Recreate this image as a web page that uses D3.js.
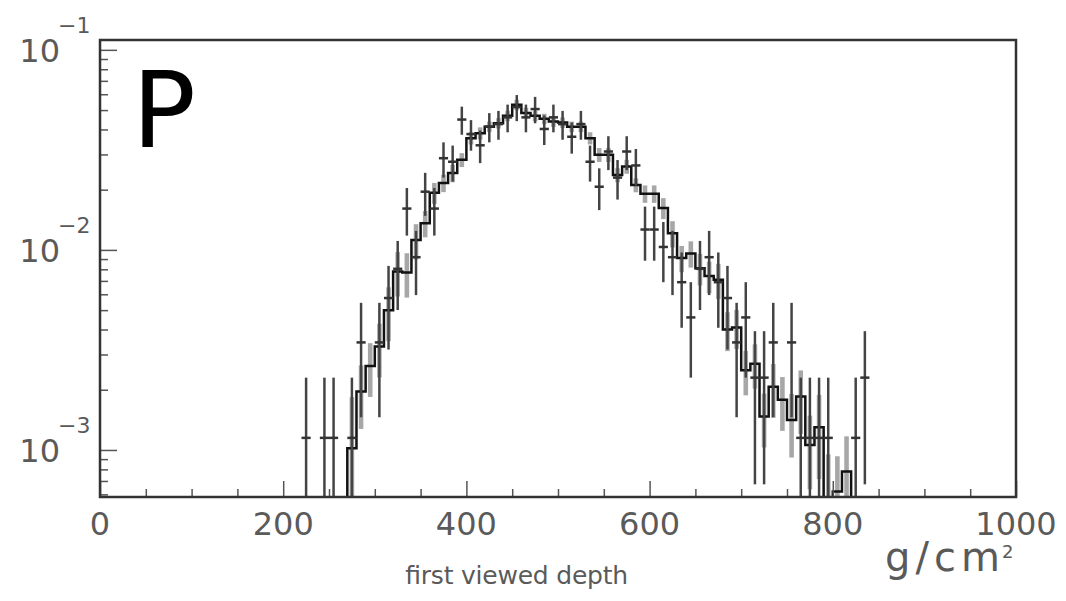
<!DOCTYPE html>
<html>
<head>
<meta charset="utf-8">
<script src="https://cdn.jsdelivr.net/npm/d3@7"></script>
<style>
  body { margin: 0; background: #fff; }
  text { font-family: "DejaVu Sans", sans-serif; }
</style>
</head>
<body>
<div id="chart"></div>
<script>
// Data
// measured points: bin centres (g/cm2) and event counts per 10 g/cm2 bin
const dataCenters = [225, 245, 255, 275, 285, 305, 315, 325, 335, 345, 355, 365,
    375, 385, 395, 405, 415, 425, 435, 445, 455, 465, 475, 485, 495, 505, 515, 525,
    535, 545, 555, 565, 575, 585, 595, 605, 615, 625, 635, 645, 655, 665, 675, 685,
    695, 705, 715, 725, 735, 755, 765, 775, 785, 795, 825, 835];
const dataCounts = [1, 1, 1, 1, 3, 3, 5, 7, 14, 8, 17, 14,
    25, 24, 39, 33, 29, 36, 37, 40, 45, 40, 44, 35, 40, 37, 32, 37,
    24, 18, 27, 20, 27, 23, 11, 11, 9, 8, 6, 4, 7, 8, 6, 5,
    3, 4, 2, 2, 3, 3, 1, 1, 1, 1, 1, 2];
const dataTotal = 870;

// simulated histogram: lower bin edges, contents, relative errors
const mcEdges = [270, 280, 290, 300, 310, 320, 330, 340, 350, 360, 370, 380, 390, 400,
    410, 420, 430, 440, 450, 460, 470, 480, 490, 500, 510, 520, 530, 540, 550, 560,
    570, 580, 590, 600, 610, 620, 630, 640, 650, 660, 670, 680, 690, 700, 710, 720,
    730, 740, 750, 760, 770, 780, 790, 800, 810];
const mcValues = [0.00102, 0.00196, 0.00263, 0.00329, 0.0050, 0.0078, 0.0077, 0.0112,
    0.0136, 0.0193, 0.0216, 0.0242, 0.0282, 0.0362, 0.0383, 0.0413, 0.0430, 0.0468,
    0.0531, 0.0484, 0.0468, 0.0452, 0.0438, 0.0433, 0.0413, 0.0413, 0.0362, 0.0299,
    0.0299, 0.0237, 0.0261, 0.0211, 0.0191, 0.0191, 0.0162, 0.0121, 0.0091, 0.0096,
    0.0081, 0.0074, 0.0071, 0.0040, 0.0041, 0.0025, 0.0027, 0.00147, 0.00207, 0.00178,
    0.00141, 0.00185, 0.00106, 0.0013, 0.0005, 0.00062, 0.00078];
const mcRelErr = [0.8, 0.35, 0.3, 0.3, 0.3, 0.25, 0.25, 0.2, 0.15, 0.12, 0.1, 0.1, 0.08, 0.07,
    0.07, 0.06, 0.06, 0.06, 0.06, 0.06, 0.06, 0.06, 0.06, 0.06, 0.06, 0.06, 0.07, 0.08,
    0.08, 0.08, 0.08, 0.08, 0.1, 0.1, 0.12, 0.15, 0.15, 0.15, 0.18, 0.18, 0.2, 0.22, 0.22,
    0.25, 0.25, 0.3, 0.3, 0.3, 0.35, 0.35, 0.4, 0.45, 0.9, 0.5, 0.5];
const binWidth = 10;

// axis labels
const xTickLabels = [0, 200, 400, 600, 800, 1000];
const yTickExponents = [-1, -2, -3];

// Dimensions and margins
const margin = { top: 40, right: 50, bottom: 104, left: 100 },
    width = 1066 - margin.left - margin.right,
    height = 601 - margin.top - margin.bottom;

const svg = d3.select("#chart")
    .append("svg")
    .attr("width", 1066)
    .attr("height", 601)
    .append("g")
    .attr("transform", `translate(${margin.left},${margin.top})`);

// Scales
const yMin = 5.82e-4, yMax = 0.112;
const x = d3.scaleLinear().domain([0, 1000]).range([0, width]);
const y = d3.scaleLog().domain([yMin, yMax]).range([height, 0]).clamp(true);
const yPos = v => v > yMin ? y(v) : height + 3;

svg.append("clipPath").attr("id", "clip")
    .append("rect").attr("width", width).attr("height", height);

const plot = svg.append("g").attr("clip-path", "url(#clip)");

// MC error band
plot.selectAll(".band")
    .data(mcEdges)
    .enter()
    .append("rect")
    .attr("class", "band")
    .attr("x", d => x(d + 2.5))
    .attr("width", x(5) - x(0))
    .attr("y", (d, i) => yPos(mcValues[i] * (1 + mcRelErr[i])))
    .attr("height", (d, i) => yPos(mcValues[i] * (1 - mcRelErr[i])) - yPos(mcValues[i] * (1 + mcRelErr[i])))
    .attr("fill", "#8a8a8a")
    .attr("opacity", 0.75);

// MC histogram outline
const histPts = [{ x: mcEdges[0], v: 0 }]
    .concat(mcEdges.map((d, i) => ({ x: d, v: mcValues[i] })))
    .concat([{ x: mcEdges[mcEdges.length - 1] + binWidth, v: 0 }]);

plot.append("path")
    .datum(histPts)
    .attr("fill", "none")
    .attr("stroke", "#111")
    .attr("stroke-width", 2.5)
    .attr("d", d3.line()
        .x(d => x(d.x))
        .y(d => yPos(d.v))
        .curve(d3.curveStepAfter));

// Data points with error bars
const points = dataCenters.map((c, i) => {
    const n = dataCounts[i];
    return { c: c, v: n / dataTotal, e: Math.sqrt(n) / dataTotal };
});

plot.selectAll(".ebar")
    .data(points)
    .enter()
    .append("line")
    .attr("class", "ebar")
    .attr("x1", d => x(d.c))
    .attr("x2", d => x(d.c))
    .attr("y1", d => yPos(d.v + d.e))
    .attr("y2", d => yPos(d.v - d.e))
    .attr("stroke", "#444")
    .attr("stroke-width", 2.5);

plot.selectAll(".xbar")
    .data(points)
    .enter()
    .append("line")
    .attr("class", "xbar")
    .attr("x1", d => x(d.c - binWidth / 2))
    .attr("x2", d => x(d.c + binWidth / 2))
    .attr("y1", d => yPos(d.v))
    .attr("y2", d => yPos(d.v))
    .attr("stroke", "#333")
    .attr("stroke-width", 2.5);

// Axes ticks (inward)
const tickColor = "#555";
const xAxis = svg.append("g").attr("transform", `translate(0,${height})`);
xAxis.call(d3.axisBottom(x)
    .tickValues(d3.range(0, 1001, 50))
    .tickSize(0)
    .tickFormat(""));
xAxis.select(".domain").remove();
xAxis.selectAll(".tick line")
    .attr("y2", d => d % 200 === 0 ? -16 : -8)
    .attr("stroke", tickColor)
    .attr("stroke-width", 1.5);

const yAxis = svg.append("g");
yAxis.call(d3.axisRight(y)
    .tickValues(y.ticks())
    .tickSize(0)
    .tickFormat(""));
yAxis.select(".domain").remove();
yAxis.selectAll(".tick line")
    .attr("x2", d => Math.abs(Math.log10(d) - Math.round(Math.log10(d))) < 1e-6 ? 17 : 8)
    .attr("stroke", tickColor)
    .attr("stroke-width", 1.5);

// Frame
svg.append("rect")
    .attr("width", width)
    .attr("height", height)
    .attr("fill", "none")
    .attr("stroke", "#333")
    .attr("stroke-width", 2.5);

// Tick labels
const labelColor = "#5a5a5a";
svg.selectAll(".xlab")
    .data(xTickLabels)
    .enter()
    .append("text")
    .attr("x", d => x(d))
    .attr("y", height + 38)
    .attr("text-anchor", "middle")
    .attr("font-size", 32)
    .attr("fill", labelColor)
    .text(d => d);

yTickExponents.forEach(p => {
    const ty = y(Math.pow(10, p));
    svg.append("text")
        .attr("x", -40)
        .attr("y", ty + 12)
        .attr("text-anchor", "end")
        .attr("font-size", 32)
        .attr("fill", labelColor)
        .text("10");
    svg.append("text")
        .attr("x", -42)
        .attr("y", ty - 17)
        .attr("font-size", 22)
        .attr("fill", labelColor)
        .text("\u2212" + Math.abs(p));
});

// Axis titles
svg.append("text")
    .attr("x", 785)
    .attr("y", 531)
    .attr("font-size", 40)
    .attr("fill", labelColor)
    .attr("textLength", 115)
    .attr("lengthAdjust", "spacing")
    .text("g/cm");
svg.append("text")
    .attr("x", 902)
    .attr("y", 518)
    .attr("font-size", 18)
    .attr("fill", labelColor)
    .text("2");

svg.append("text")
    .attr("x", 305)
    .attr("y", 544)
    .attr("font-size", 25)
    .attr("fill", labelColor)
    .attr("textLength", 223)
    .attr("lengthAdjust", "spacing")
    .text("first viewed depth");

// Panel letter
svg.append("text")
    .attr("x", 32)
    .attr("y", 107)
    .attr("font-size", 106)
    .attr("fill", "#000")
    .text("P");
</script>
</body>
</html>
